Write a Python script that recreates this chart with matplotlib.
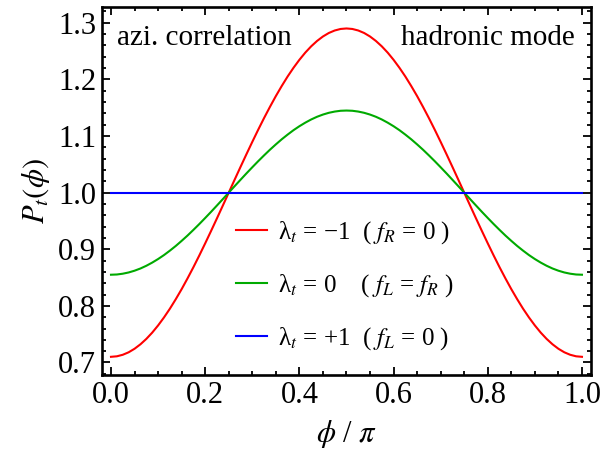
import matplotlib
matplotlib.use("Agg")
import matplotlib.pyplot as plt
from matplotlib.ticker import MultipleLocator

plt.rcParams['font.family'] = ['Liberation Serif', 'DejaVu Serif']
plt.rcParams['mathtext.fontset'] = 'stix'

# phi / pi sample points and values
phi = [0.0, 0.0125, 0.025, 0.0375, 0.05, 0.0625, 0.075, 0.0875, 0.1, 0.1125,
       0.125, 0.1375, 0.15, 0.1625, 0.175, 0.1875, 0.2, 0.2125, 0.225, 0.2375,
       0.25, 0.2625, 0.275, 0.2875, 0.3, 0.3125, 0.325, 0.3375, 0.35, 0.3625,
       0.375, 0.3875, 0.4, 0.4125, 0.425, 0.4375, 0.45, 0.4625, 0.475, 0.4875,
       0.5, 0.5125, 0.525, 0.5375, 0.55, 0.5625, 0.575, 0.5875, 0.6, 0.6125,
       0.625, 0.6375, 0.65, 0.6625, 0.675, 0.6875, 0.7, 0.7125, 0.725, 0.7375,
       0.75, 0.7625, 0.775, 0.7875, 0.8, 0.8125, 0.825, 0.8375, 0.85, 0.8625,
       0.875, 0.8875, 0.9, 0.9125, 0.925, 0.9375, 0.95, 0.9625, 0.975, 0.9875,
       1.0]
p_minus = [0.7100, 0.7109, 0.7136, 0.7180, 0.7242, 0.7321, 0.7416, 0.7527, 0.7654, 0.7795,
           0.7949, 0.8117, 0.8295, 0.8485, 0.8683, 0.8890, 0.9104, 0.9323, 0.9546, 0.9772,
           1.0000, 1.0228, 1.0454, 1.0677, 1.0896, 1.1110, 1.1317, 1.1515, 1.1705, 1.1883,
           1.2051, 1.2205, 1.2346, 1.2473, 1.2584, 1.2679, 1.2758, 1.2820, 1.2864, 1.2891,
           1.2900, 1.2891, 1.2864, 1.2820, 1.2758, 1.2679, 1.2584, 1.2473, 1.2346, 1.2205,
           1.2051, 1.1883, 1.1705, 1.1515, 1.1317, 1.1110, 1.0896, 1.0677, 1.0454, 1.0228,
           1.0000, 0.9772, 0.9546, 0.9323, 0.9104, 0.8890, 0.8683, 0.8485, 0.8295, 0.8117,
           0.7949, 0.7795, 0.7654, 0.7527, 0.7416, 0.7321, 0.7242, 0.7180, 0.7136, 0.7109,
           0.7100]
p_zero = [0.8550, 0.8554, 0.8568, 0.8590, 0.8621, 0.8660, 0.8708, 0.8764, 0.8827, 0.8897,
          0.8975, 0.9058, 0.9148, 0.9242, 0.9342, 0.9445, 0.9552, 0.9661, 0.9773, 0.9886,
          1.0000, 1.0114, 1.0227, 1.0339, 1.0448, 1.0555, 1.0658, 1.0758, 1.0852, 1.0942,
          1.1025, 1.1103, 1.1173, 1.1236, 1.1292, 1.1340, 1.1379, 1.1410, 1.1432, 1.1446,
          1.1450, 1.1446, 1.1432, 1.1410, 1.1379, 1.1340, 1.1292, 1.1236, 1.1173, 1.1103,
          1.1025, 1.0942, 1.0852, 1.0758, 1.0658, 1.0555, 1.0448, 1.0339, 1.0227, 1.0114,
          1.0000, 0.9886, 0.9773, 0.9661, 0.9552, 0.9445, 0.9342, 0.9242, 0.9148, 0.9058,
          0.8975, 0.8897, 0.8827, 0.8764, 0.8708, 0.8660, 0.8621, 0.8590, 0.8568, 0.8554,
          0.8550]
p_plus = [1.0] * len(phi)

labels = ["λ$_t$ = −1  ( $f_R$ = 0 )",
          "λ$_t$ = 0    ( $f_L$ = $f_R$ )",
          "λ$_t$ = +1  ( $f_L$ = 0 )"]
colors = ["#ff0000", "#00aa00", "#0000ff"]

fig = plt.figure(figsize=(6.01, 4.63), dpi=100)
ax = fig.add_axes([0.169, 0.189, 0.815, 0.796])

for ys, lab, c in zip([p_minus, p_zero, p_plus], labels, colors):
    ax.plot(phi, ys, color=c, lw=1.5, label=lab)

ax.set_xlim(-0.02, 1.02)
ax.set_ylim(0.677, 1.328)
ax.xaxis.set_major_locator(MultipleLocator(0.2))
ax.xaxis.set_minor_locator(MultipleLocator(0.05))
ax.yaxis.set_major_locator(MultipleLocator(0.1))
ax.yaxis.set_minor_locator(MultipleLocator(0.02))
ax.xaxis.set_major_formatter(plt.FormatStrFormatter('%.1f'))
ax.yaxis.set_major_formatter(plt.FormatStrFormatter('%.1f'))
ax.tick_params(which='both', direction='in', top=True, right=True, width=1.3)
ax.tick_params(which='major', length=5.5, labelsize=22, pad=4)
ax.tick_params(which='minor', length=3)
for s in ax.spines.values():
    s.set_linewidth(1.9)

ax.set_xlabel(r"$\phi$ / $\pi$", fontsize=22, labelpad=6)
ax.set_ylabel(r"$P_t(\phi)$", fontsize=22, labelpad=4)

ax.text(0.031, 0.897, "azi. correlation", transform=ax.transAxes,
        fontsize=21, va='baseline', ha='left')
ax.text(0.967, 0.897, "hadronic mode", transform=ax.transAxes,
        fontsize=21, va='baseline', ha='right')

fig.legend(loc='upper left', bbox_to_anchor=(236 / 601, 1 - 219 / 463),
           frameon=False, fontsize=18, handlelength=1.22, handletextpad=0.45,
           labelspacing=1.05, borderpad=0, borderaxespad=0)

fig.savefig("out.png", dpi=100)
